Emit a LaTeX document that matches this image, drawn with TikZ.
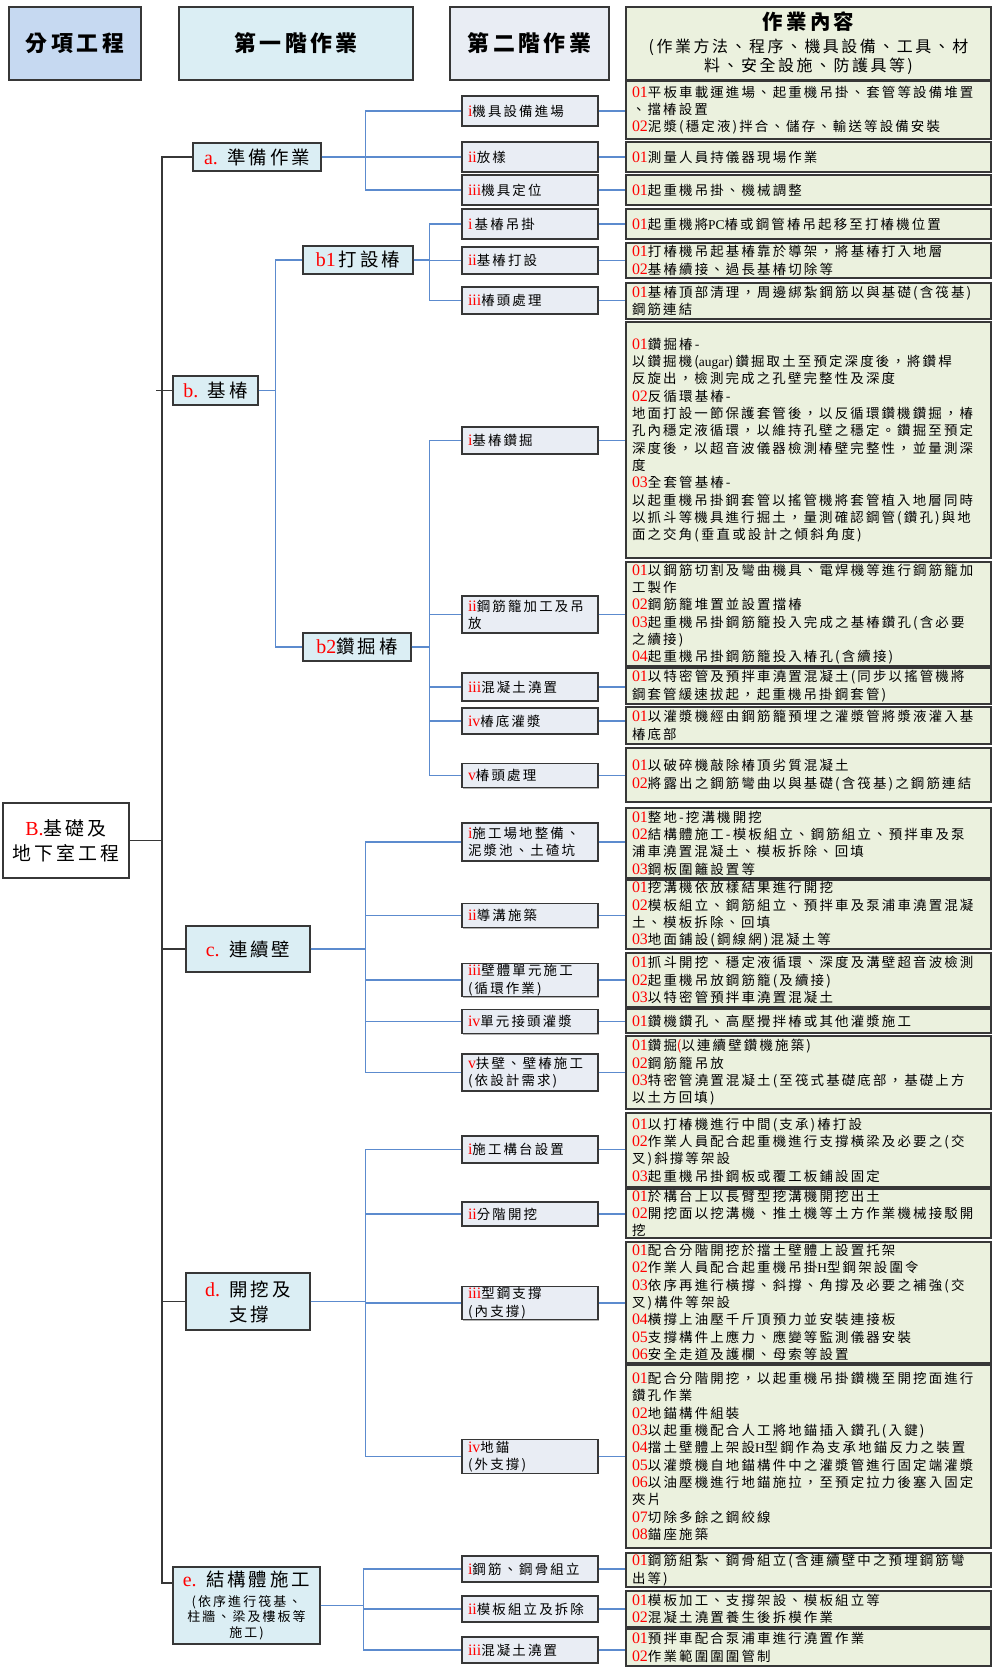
\documentclass[tikz,border=0pt]{standalone}
\usepackage{fontspec}
\setmainfont{Liberation Serif}
\newfontfamily\cjk[LetterSpace=16]{Noto Sans CJK TC}
\usetikzlibrary{shadows}

\definecolor{itemblue}{RGB}{198,217,241}
\definecolor{stepone}{RGB}{219,238,244}
\definecolor{steptwo}{RGB}{233,237,244}
\definecolor{jobgreen}{RGB}{235,241,222}
\definecolor{linkblue}{RGB}{92,139,206}
\definecolor{frame}{RGB}{55,55,55}

\newcommand{\nr}[1]{{\rmfamily\fontsize{16}{17}\selectfont\color{red}#1}}
\newcommand{\lab}[1]{{\rmfamily\fontsize{20}{24}\selectfont\color{red}#1}}
\newcommand{\lat}[1]{{\rmfamily #1}}

\tikzset{
  headbox/.style={draw=frame, line width=1.4bp, minimum height=73bp, align=center,
    font=\cjk\bfseries\fontsize{22}{26}\selectfont},
  firstbox/.style={draw=frame, fill=stepone, line width=1.3bp, inner sep=1bp, align=center,
    font=\cjk\fontsize{18.5}{25}\selectfont,
    drop shadow={shadow xshift=1bp, shadow yshift=-1bp, fill=black!60}},
  secondbox/.style={draw=frame, fill=steptwo, line width=1.2bp, text width=124bp,
    inner xsep=6bp, inner ysep=1bp, align=left, font=\cjk\fontsize{13.5}{17.4}\selectfont,
    drop shadow={shadow xshift=1bp, shadow yshift=-1bp, fill=black!60}},
  jobbox/.style={draw=frame, fill=jobgreen, line width=1.3bp, text width=353bp,
    inner xsep=6bp, inner ysep=1bp, align=left, font=\cjk\fontsize{13.5}{17.4}\selectfont,
    drop shadow={shadow xshift=1bp, shadow yshift=-1bp, fill=black!60}},
  link/.style={draw=linkblue, line width=1.1bp},
  trunk/.style={draw=frame, line width=1.1bp},
}

\begin{document}
\begin{tikzpicture}[x=1bp,y=-1bp]
\path[use as bounding box, fill=white] (0,0) rectangle (993,1675);

% headers
\node[headbox, fill=itemblue, minimum width=132bp] (hd-item) at (75,43.5) {分項工程};
\node[headbox, fill=stepone, minimum width=234bp] (hd-one) at (296,43.5) {第一階作業};
\node[headbox, fill=steptwo, minimum width=159bp] (hd-two) at (529.5,43.5) {第二階作業};
\node[headbox, fill=jobgreen, minimum width=365bp, font=\cjk\fontsize{16}{19}\selectfont] (hd-job) at (808.5,43.5)
  {{\bfseries\fontsize{20.5}{24}\selectfont 作業內容}\\[4bp](作業方法、程序、機具設備、工具、材\\料、安全設施、防護具等)};

% item and first step
\node[firstbox, fill=white, minimum width=126bp, minimum height=75bp, font=\cjk\fontsize{19}{25}\selectfont] (B) at (66,840.5)
  {\lab{B.}基礎及\\地下室工程};
\node[firstbox, minimum width=128bp, minimum height=28bp] (a) at (257,157) {\lab{a.} 準備作業};
\node[firstbox, minimum width=85bp, minimum height=29bp] (b) at (215.5,390.5) {\lab{b.} 基椿};
\node[firstbox, minimum width=110bp, minimum height=28bp] (b1) at (358,260) {\lab{b1}\,打設椿};
\node[firstbox, minimum width=108bp, minimum height=28bp] (b2) at (357,647) {\lab{b2}鑽掘椿};
\node[firstbox, minimum width=124bp, minimum height=46bp] (c) at (248,949) {\lab{c.} 連續壁};
\node[firstbox, minimum width=124bp, minimum height=57bp, align=left] (d) at (248,1301.5)
  {\lab{d.} 開挖及\\\hphantom{\lab{d.} }支撐};
\node[firstbox, minimum width=147bp, minimum height=77bp, font=\cjk\fontsize{13}{16}\selectfont] (e) at (246.5,1605.5)
  {{\fontsize{18.5}{22}\selectfont\lab{e.} 結構體施工}\\[4bp](依序進行筏基、\\柱牆、梁及樓板等\\施工)};

% second step
\node[secondbox, minimum height=30bp] (ai) at (530,111) {\nr{i}機具設備進場};
\node[secondbox, minimum height=30bp] (aii) at (530,157) {\nr{ii}放樣};
\node[secondbox, minimum height=30bp] (aiii) at (530,190) {\nr{iii}機具定位};
\node[secondbox, minimum height=30bp] (b1i) at (530,224) {\nr{i}\,基椿吊掛};
\node[secondbox, minimum height=27bp] (b1ii) at (530,260.5) {\nr{ii}基椿打設};
\node[secondbox, minimum height=27bp] (b1iii) at (530,300.5) {\nr{iii}椿頭處理};
\node[secondbox, minimum height=27bp] (b2i) at (530,440.5) {\nr{i}基椿鑽掘};
\node[secondbox, minimum height=37bp] (b2ii) at (530,614.5) {\nr{ii}鋼筋籠加工及吊\\放};
\node[secondbox, minimum height=28bp] (b2iii) at (530,687) {\nr{iii}混凝土澆置};
\node[secondbox, minimum height=26bp] (b2iv) at (530,721) {\nr{iv}椿底灌漿};
\node[secondbox, minimum height=24bp] (b2v) at (530,775.5) {\nr{v}椿頭處理};
\node[secondbox, minimum height=38bp] (ci) at (530,842) {\nr{i}施工場地整備、\\泥漿池、土碴坑};
\node[secondbox, minimum height=24bp] (cii) at (530,915.5) {\nr{ii}導溝施築};
\node[secondbox, minimum height=32bp] (ciii) at (530,980) {\nr{iii}壁體單元施工\\(循環作業)};
\node[secondbox, minimum height=24bp] (civ) at (530,1021.5) {\nr{iv}單元接頭灌漿};
\node[secondbox, minimum height=37bp] (cv) at (530,1072.5) {\nr{v}扶壁、壁椿施工\\(依設計需求)};
\node[secondbox, minimum height=27bp] (di) at (530,1149.5) {\nr{i}施工構台設置};
\node[secondbox, minimum height=24bp] (dii) at (530,1214) {\nr{ii}分階開挖};
\node[secondbox, minimum height=30bp] (diii) at (530,1303) {\nr{iii}型鋼支撐\\(內支撐)};
\node[secondbox, minimum height=33bp] (div) at (530,1456.5) {\nr{iv}地錨\\(外支撐)};
\node[secondbox, minimum height=26bp] (ei) at (530,1569) {\nr{i}鋼筋、鋼骨組立};
\node[secondbox, minimum height=26bp] (eii) at (530,1609) {\nr{ii}模板組立及拆除};
\node[secondbox, minimum height=26bp] (eiii) at (530,1650) {\nr{iii}混凝土澆置};

% job contents
\node[jobbox, minimum height=58bp] (ai-job) at (808.5,110)
  {\nr{01}平板車載運進場、起重機吊掛、套管等設備堆置\\、擋椿設置\\\nr{02}泥漿(穩定液)拌合、儲存、輸送等設備安裝};
\node[jobbox, minimum height=30bp] (aii-job) at (808.5,157) {\nr{01}測量人員持儀器現場作業};
\node[jobbox, minimum height=30bp] (aiii-job) at (808.5,190) {\nr{01}起重機吊掛、機械調整};
\node[jobbox, minimum height=30bp] (b1i-job) at (808.5,224) {\nr{01}起重機將\lat{PC}椿或鋼管椿吊起移至打椿機位置};
\node[jobbox, minimum height=35bp] (b1ii-job) at (808.5,260.5)
  {\nr{01}打椿機吊起基椿靠於導架，將基椿打入地層\\\nr{02}基椿續接、過長基椿切除等};
\node[jobbox, minimum height=36bp] (b1iii-job) at (808.5,301)
  {\nr{01}基椿頂部清理，周邊綁紮鋼筋以與基礎(含筏基)\\鋼筋連結};
\node[jobbox, minimum height=236bp] (b2i-job) at (808.5,440)
  {\nr{01}鑽掘椿-\\以鑽掘機(\lat{augar})鑽掘取土至預定深度後，將鑽桿\\反旋出，檢測完成之孔壁完整性及深度\\
   \nr{02}反循環基椿-\\地面打設一節保護套管後，以反循環鑽機鑽掘，椿\\孔內穩定液循環，以維持孔壁之穩定。鑽掘至預定\\深度後，以超音波儀器檢測椿壁完整性，並量測深\\度\\
   \nr{03}全套管基椿-\\以起重機吊掛鋼套管以搖管機將套管植入地層同時\\以抓斗等機具進行掘土，量測確認鋼管(鑽孔)與地\\面之交角(垂直或設計之傾斜角度)};
\node[jobbox, minimum height=104bp] (b2ii-job) at (808.5,614)
  {\nr{01}以鋼筋切割及彎曲機具、電焊機等進行鋼筋籠加\\工製作\\\nr{02}鋼筋籠堆置並設置擋椿\\
   \nr{03}起重機吊掛鋼筋籠投入完成之基椿鑽孔(含必要\\之續接)\\\nr{04}起重機吊掛鋼筋籠投入椿孔(含續接)};
\node[jobbox, minimum height=36bp] (b2iii-job) at (808.5,686)
  {\nr{01}以特密管及預拌車澆置混凝土(同步以搖管機將\\鋼套管緩速拔起，起重機吊掛鋼套管)};
\node[jobbox, minimum height=37bp] (b2iv-job) at (808.5,725.5)
  {\nr{01}以灌漿機經由鋼筋籠預埋之灌漿管將漿液灌入基\\椿底部};
\node[jobbox, minimum height=54bp] (b2v-job) at (808.5,775)
  {\nr{01}以破碎機敲除椿頂劣質混凝土\\\nr{02}將露出之鋼筋彎曲以與基礎(含筏基)之鋼筋連結};
\node[jobbox, minimum height=70bp] (ci-job) at (808.5,843)
  {\nr{01}整地-挖溝機開挖\\\nr{02}結構體施工-模板組立、鋼筋組立、預拌車及泵\\浦車澆置混凝土、模板拆除、回填\\\nr{03}鋼板圍籬設置等};
\node[jobbox, minimum height=69bp] (cii-job) at (808.5,914.5)
  {\nr{01}挖溝機依放樣結果進行開挖\\\nr{02}模板組立、鋼筋組立、預拌車及泵浦車澆置混凝\\土、模板拆除、回填\\\nr{03}地面鋪設(鋼線網)混凝土等};
\node[jobbox, minimum height=54bp] (ciii-job) at (808.5,980)
  {\nr{01}抓斗開挖、穩定液循環、深度及溝壁超音波檢測\\\nr{02}起重機吊放鋼筋籠(及續接)\\\nr{03}以特密管預拌車澆置混凝土};
\node[jobbox, minimum height=24bp] (civ-job) at (808.5,1021) {\nr{01}鑽機鑽孔、高壓攪拌椿或其他灌漿施工};
\node[jobbox, minimum height=73bp] (cv-job) at (808.5,1072.5)
  {\nr{01}鑽掘{\color{red}(}以連續壁鑽機施築)\\\nr{02}鋼筋籠吊放\\\nr{03}特密管澆置混凝土(至筏式基礎底部，基礎上方\\以土方回填)};
\node[jobbox, minimum height=74bp] (di-job) at (808.5,1150)
  {\nr{01}以打椿機進行中間(支承)椿打設\\\nr{02}作業人員配合起重機進行支撐橫梁及必要之(交\\叉)斜撐等架設\\\nr{03}起重機吊掛鋼板或覆工板鋪設固定};
\node[jobbox, minimum height=49bp] (dii-job) at (808.5,1213.5)
  {\nr{01}於構台上以長臂型挖溝機開挖出土\\\nr{02}開挖面以挖溝機、推土機等土方作業機械接駁開\\挖};
\node[jobbox, minimum height=121bp] (diii-job) at (808.5,1302.5)
  {\nr{01}配合分階開挖於擋土壁體上設置托架\\\nr{02}作業人員配合起重機吊掛\lat{H}型鋼架設圍令\\
   \nr{03}依序再進行橫撐、斜撐、角撐及必要之補強(交\\叉)構件等架設\\\nr{04}橫撐上油壓千斤頂預力並安裝連接板\\
   \nr{05}支撐構件上應力、應變等監測儀器安裝\\\nr{06}安全走道及護欄、母索等設置};
\node[jobbox, minimum height=183bp] (div-job) at (808.5,1456.5)
  {\nr{01}配合分階開挖，以起重機吊掛鑽機至開挖面進行\\鑽孔作業\\\nr{02}地錨構件組裝\\\nr{03}以起重機配合人工將地錨插入鑽孔(入鍵)\\
   \nr{04}擋土壁體上架設\lat{H}型鋼作為支承地錨反力之裝置\\\nr{05}以灌漿機自地錨構件中之灌漿管進行固定端灌漿\\
   \nr{06}以油壓機進行地錨施拉，至預定拉力後塞入固定\\夾片\\\nr{07}切除多餘之鋼絞線\\\nr{08}錨座施築};
\node[jobbox, minimum height=34bp] (ei-job) at (808.5,1570)
  {\nr{01}鋼筋組紮、鋼骨組立(含連續壁中之預埋鋼筋彎\\出等)};
\node[jobbox, minimum height=36bp] (eii-job) at (808.5,1609)
  {\nr{01}模板加工、支撐架設、模板組立等\\\nr{02}混凝土澆置養生後拆模作業};
\node[jobbox, minimum height=37bp] (eiii-job) at (808.5,1647.5)
  {\nr{01}預拌車配合泵浦車進行澆置作業\\\nr{02}作業範圍圍圍管制};

% trunk
\coordinate (spine) at (162,0);
\coordinate (e-tap) at ([yshift=22.5bp]e.west);
\draw[trunk] (a.west) -| (spine |- e-tap) -- (e-tap);
\draw[trunk] (B.east) -- (B.east -| spine);
\draw[trunk] (b.west) -- ++(-16,0);
\draw[trunk] (c.west) -- (c.west -| spine);
\draw[trunk] (d.west) -- (d.west -| spine);

% branches
\foreach \kid in {ai,aii,aiii} \draw[link] (a.east) -- ++(44,0) |- (\kid.west);
\foreach \kid in {b1,b2} \draw[link] (b.east) -- ++(17,0) |- (\kid.west);
\foreach \kid in {b1i,b1ii,b1iii} \draw[link] (b1.east) -- ++(16,0) |- (\kid.west);
\foreach \kid in {b2i,b2ii,b2iii,b2iv,b2v} \draw[link] (b2.east) -- ++(18,0) |- (\kid.west);
\foreach \kid in {ci,cii,ciii,civ,cv} \draw[link] (c.east) -- ++(55,0) |- (\kid.west);
\foreach \kid in {di,dii,diii,div} \draw[link] (d.east) -- ++(55,0) |- (\kid.west);
\foreach \kid in {ei,eii,eiii} \draw[link] (e.east) -- ++(43,0) |- (\kid.west);
\foreach \kid in {ai,aii,aiii,b1i,b1ii,b1iii,b2i,b2ii,b2iii,b2iv,b2v,ci,cii,ciii,civ,cv,di,dii,diii,div,ei,eii,eiii}
  \draw[link] (\kid.east) -- (\kid.east -| \kid-job.west);
\end{tikzpicture}
\end{document}
